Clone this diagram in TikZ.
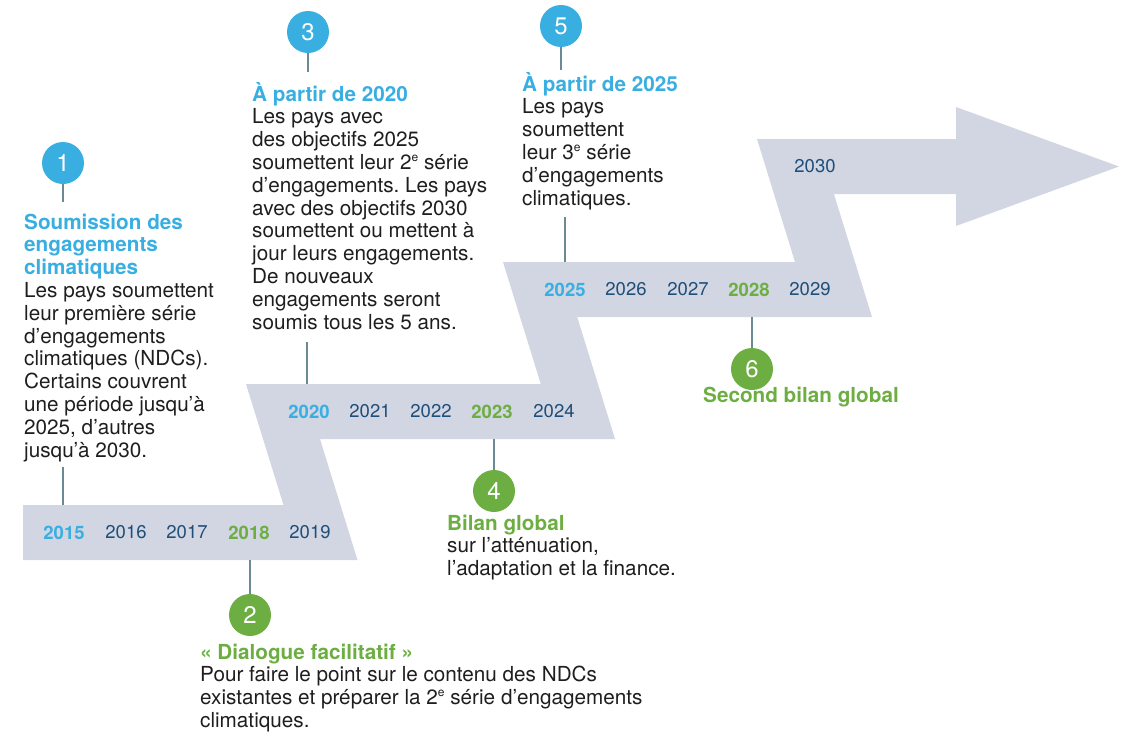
\documentclass[tikz,border=0pt]{standalone}
\usepackage{fontspec}
\setmainfont{TeX Gyre Heros}
\frenchspacing
\definecolor{band}{RGB}{209,214,226}
\definecolor{cblue}{RGB}{57,174,225}
\definecolor{cgreen}{RGB}{109,174,66}
\definecolor{ydark}{RGB}{31,78,121}
\definecolor{tickc}{RGB}{108,138,148}
\definecolor{txt}{RGB}{30,30,30}
\newcommand\blkbox[1]{\vtop{\baselineskip=22.8pt\lineskiplimit=-20pt\lineskip=0pt #1}}
\newcommand\tb[1]{\hbox{\bfseries\color{cblue}#1}}
\newcommand\tg[1]{\hbox{\bfseries\color{cgreen}#1}}
\newcommand\tl[1]{\hbox{#1}}
\newcommand\supe{\raisebox{0.38em}{\fontsize{12}{12}\selectfont e}}
\tikzset{
  yr/.style={inner sep=0, font=\fontsize{18.5}{20}\selectfont, text=ydark},
  yrb/.style={inner sep=0, font=\fontsize{18.5}{20}\selectfont\bfseries, text=cblue},
  yrg/.style={inner sep=0, font=\fontsize{18.5}{20}\selectfont\bfseries, text=cgreen},
  dotb/.style={circle, fill=cblue, minimum size=42pt, inner sep=0, text=white, font=\fontsize{24}{24}\selectfont},
  dotg/.style={circle, fill=cgreen, minimum size=42pt, inner sep=0, text=white, font=\fontsize{24}{24}\selectfont},
  tickline/.style={draw=tickc, line width=2pt},
  blk/.style={anchor=base west, inner sep=0, font=\fontsize{20.7}{22.8}\selectfont, text=txt},
}
\begin{document}
\begin{tikzpicture}[x=1pt,y=-1pt]
\useasboundingbox (0,0) rectangle (1145,755);
% band
\fill[band] (23,560) -- (23,505) -- (283.5,505) -- (246,384) -- (540.8,384) -- (503,262)
  -- (795,262) -- (757,139) -- (956,139) -- (956,107) -- (1119,166.5) -- (956,226)
  -- (956,194) -- (833.9,194) -- (872,317) -- (577.2,317) -- (615,439) -- (320,439)
  -- (357.5,560) -- cycle;
% years
\node[yrb] (y2015) at (64,532.5) {2015};
\node[yr]  (y2016) at (126,532.5) {2016};
\node[yr]  (y2017) at (187,532.5) {2017};
\node[yrg] (y2018) at (249,532.5) {2018};
\node[yr]  (y2019) at (310,532.5) {2019};
\node[yrb] (y2020) at (309,411.5) {2020};
\node[yr]  (y2021) at (370,411.5) {2021};
\node[yr]  (y2022) at (431,411.5) {2022};
\node[yrg] (y2023) at (492,411.5) {2023};
\node[yr]  (y2024) at (554,411.5) {2024};
\node[yrb] (y2025) at (565,289.5) {2025};
\node[yr]  (y2026) at (626,289.5) {2026};
\node[yr]  (y2027) at (688,289.5) {2027};
\node[yrg] (y2028) at (749,289.5) {2028};
\node[yr]  (y2029) at (810,289.5) {2029};
\node[yr]  (y2030) at (815,166.5) {2030};
% circles
\node[dotb] (c1) at (63,163) {1};
\node[dotg] (c2) at (250,615) {2};
\node[dotb] (c3) at (308,32) {3};
\node[dotg] (c4) at (494,491) {4};
\node[dotb] (c5) at (561,26) {5};
\node[dotg] (c6) at (752,369) {6};
% tick coordinates
\coordinate (k1a) at (63,202); \coordinate (k1b) at (63,467); \coordinate (k1c) at (63,505);
\coordinate (k2) at (250,560);
\coordinate (k3a) at (308,72); \coordinate (k3b) at (307,342); \coordinate (k3c) at (307,384);
\coordinate (k4) at (494,439);
\coordinate (k5a) at (561,70); \coordinate (k5b) at (565,217); \coordinate (k5c) at (565,262);
\coordinate (k6) at (752,317);
\draw[tickline] (c1) -- (k1a);
\draw[tickline] (k1b) -- (k1c);
\draw[tickline] (k2) -- (c2);
\draw[tickline] (c3) -- (k3a);
\draw[tickline] (k3b) -- (k3c);
\draw[tickline] (k4) -- (c4);
\draw[tickline] (c5) -- (k5a);
\draw[tickline] (k5b) -- (k5c);
\draw[tickline] (k6) -- (c6);
% texts
\node[blk] (t1) at (24,229) {\blkbox{%
  \tb{Soumission des}\tb{engagements}\tb{climatiques}%
  \tl{Les pays soumettent}\tl{leur première série}\tl{d’engagements}%
  \tl{climatiques (NDCs).}\tl{Certains couvrent}\tl{une période jusqu’à}%
  \tl{2025, d’autres}\tl{jusqu’à 2030.}}};
\node[blk] (t3) at (252,101) {\blkbox{%
  \tb{À partir de 2020}%
  \tl{Les pays avec}\tl{des objectifs 2025}\tl{soumettent leur 2\supe{} série}%
  \tl{d’engagements. Les pays}\tl{avec des objectifs 2030}\tl{soumettent ou mettent à}%
  \tl{jour leurs engagements.}\tl{De nouveaux}\tl{engagements seront}%
  \tl{soumis tous les 5 ans.}}};
\node[blk] (t5) at (522,91) {\blkbox{%
  \tb{À partir de 2025}%
  \tl{Les pays}\tl{soumettent}\tl{leur 3\supe{} série}\tl{d’engagements}\tl{climatiques.}}};
\node[blk] (t4) at (447,530) {\blkbox{%
  \tg{Bilan global}\tl{sur l’atténuation,}\tl{l’adaptation et la finance.}}};
\node[blk] (t2) at (200,659) {\blkbox{%
  \tg{«~Dialogue facilitatif~»}%
  \tl{Pour faire le point sur le contenu des NDCs}%
  \tl{existantes et préparer la 2\supe{} série d’engagements}%
  \tl{climatiques.}}};
\node[blk] (t6) at (703,402) {\blkbox{\tg{Second bilan global}}};
\end{tikzpicture}
\end{document}
